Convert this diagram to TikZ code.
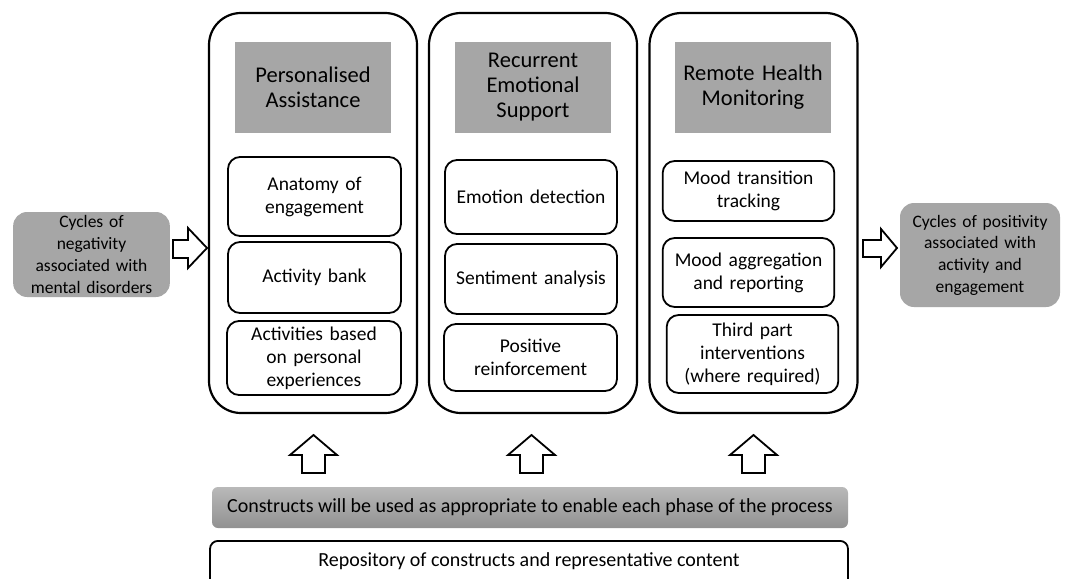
\documentclass[tikz,border=0pt]{standalone}
\usepackage{fontspec}
\setmainfont{Carlito}
\usepackage{tikz}
\usetikzlibrary{arrows.meta,calc}
\definecolor{boxgray}{RGB}{166,166,166}
\definecolor{bartop}{RGB}{185,185,185}
\definecolor{barbot}{RGB}{145,145,145}

\begin{document}
\begin{tikzpicture}[x=1pt, y=-1pt,
    column/.style={draw, line width=2.2pt, rounded corners=32pt, minimum width=208pt, minimum height=400pt},
    title/.style={fill=boxgray, minimum width=154pt, minimum height=91pt, text width=150pt, align=center, font=\fontsize{22.5}{25}\selectfont},
    item/.style={draw, line width=1.8pt, rounded corners=12pt, text width=165pt, align=center, font=\fontsize{19.5}{23}\selectfont},
    cycle/.style={fill=boxgray, rounded corners=14pt, text width=150pt, align=center, font=\fontsize{17.5}{21.7}\selectfont},
    blockarrow/.style={draw, line width=1.8pt, fill=white, line join=miter}]
    %% Background
    \clip (0,0) rectangle (1067,578);
    \fill[white] (0,0) rectangle (1067,578);
    %% Columns
    \node[column] (col1) at (313,213) {};
    \node[column] (col2) at (533,213) {};
    \node[column] (col3) at (753.5,213) {};
    %% Titles
    \node[title] (tit1) at (313,87.5) {Personalised\\Assistance};
    \node[title] (tit2) at (533,87.5) {Recurrent\\Emotional\\Support};
    \node[title] (tit3) at (753,87.5) {Remote Health\\Monitoring};
    %% Items
    \node[item, minimum width=173pt, minimum height=79pt] (anat) at (314.5,196.5) {Anatomy of\\engagement};
    \node[item, minimum width=173pt, minimum height=71pt] (bank) at (314.5,277.5) {Activity bank};
    \node[item, minimum width=174pt, minimum height=74pt] (based) at (314,358) {Activities based\\on personal\\experiences};
    \node[item, minimum width=172pt, minimum height=74pt] (emo) at (531,197) {Emotion detection};
    \node[item, minimum width=172pt, minimum height=70pt] (senti) at (531,279) {Sentiment analysis};
    \node[item, minimum width=173pt, minimum height=67pt] (reinf) at (530.5,357.5) {Positive\\reinforcement};
    \node[item, minimum width=171pt, minimum height=60pt] (track) at (748.5,191) {Mood transition\\tracking};
    \node[item, minimum width=171pt, minimum height=69pt] (aggr) at (748.5,272.5) {Mood aggregation\\and reporting};
    \node[item, minimum width=169pt, minimum height=78pt] (third) at (752.5,354) {Third part\\interventions\\(where required)};
    %% Cycles
    \node[cycle, minimum width=153pt, minimum height=85pt] (neg) at (91.5,254.5)
        {Cycles of\\negativity\\associated with\\mental disorders};
    \node[cycle, minimum width=160pt, minimum height=104pt] (pos) at (980,255)
        {Cycles of positivity\\associated with\\activity and\\engagement};
    %% Constructs
    \node[rounded corners=6pt, top color=bartop, bottom color=barbot, minimum width=636pt, minimum height=41pt,
          font=\fontsize{20}{22}\selectfont] (constr) at (530,507.5) {Constructs will be used as appropriate to enable each phase of the process};
    \node[draw, line width=1.8pt, rounded corners=8pt, minimum width=638pt, inner sep=0pt, anchor=north,
          font=\fontsize{20}{22}\selectfont, text height=26pt, text depth=30pt] (repo) at (529,540) {Repository of constructs and representative content};
    %% Arrows
    \draw[blockarrow] (173,240) to (188,240) to (188,228) to (207,248) to (188,268) to (188,258) to (173,258) -- cycle;
    \draw[blockarrow] (863,240) to (881,240) to (881,229) to (897,248) to (881,267) to (881,257) to (863,257) -- cycle;
    \foreach \cx in {313.5,531.5,753.5}
        \draw[blockarrow] (\cx-11.5,473) to (\cx-11.5,455) to (\cx-23.5,455) to (\cx,435)
            to (\cx+23.5,455) to (\cx+11.5,455) to (\cx+11.5,473) -- cycle;
\end{tikzpicture}
\end{document}
